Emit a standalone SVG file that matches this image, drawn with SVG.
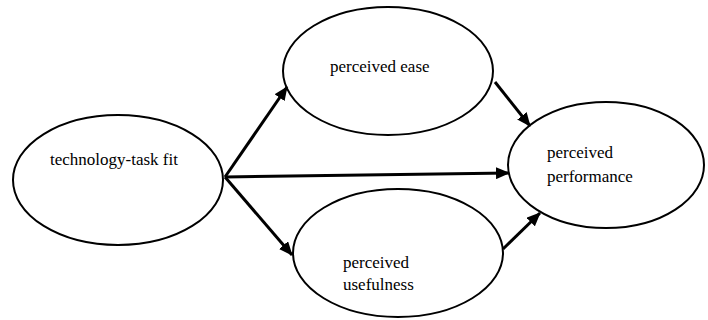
<svg xmlns="http://www.w3.org/2000/svg" width="708" height="320" viewBox="0 0 708 320">
<style>
.n ellipse{fill:#fff;stroke:#000;stroke-width:2}
.n text{font-family:"Liberation Serif","Times New Roman",serif;font-size:17px;fill:#000}
.c line{stroke:#000;stroke-width:3}
</style>
<defs>
<marker id="ah" markerUnits="userSpaceOnUse" markerWidth="14" markerHeight="12" refX="13" refY="6" orient="auto">
<path d="M0,0 L14,6 L0,12 Z" fill="#000"/>
</marker>
</defs>
<rect width="708" height="320" fill="#fff"/>
<g id="n1" class="n"><ellipse cx="118" cy="180" rx="105" ry="65"/><text x="50" y="165">technology-task fit</text></g>
<g id="n2" class="n"><ellipse cx="388" cy="71" rx="105" ry="64"/><text x="330" y="72">perceived ease</text></g>
<g id="n3" class="n"><ellipse cx="398" cy="253" rx="105" ry="64"/><text x="343" y="268">perceived</text><text x="343" y="290">usefulness</text></g>
<g id="n4" class="n"><ellipse cx="606" cy="165" rx="98" ry="63"/><text x="547" y="158">perceived</text><text x="547" y="182">performance</text></g>
<g id="connectors" class="c">
<line x1="225" y1="177" x2="287" y2="87" marker-end="url(#ah)"/>
<line x1="225" y1="177" x2="292" y2="255" marker-end="url(#ah)"/>
<line x1="225" y1="177" x2="509" y2="173" marker-end="url(#ah)"/>
<line x1="495" y1="82" x2="530" y2="126" marker-end="url(#ah)"/>
<line x1="503" y1="249" x2="540" y2="213" marker-end="url(#ah)"/>
</g>
</svg>
